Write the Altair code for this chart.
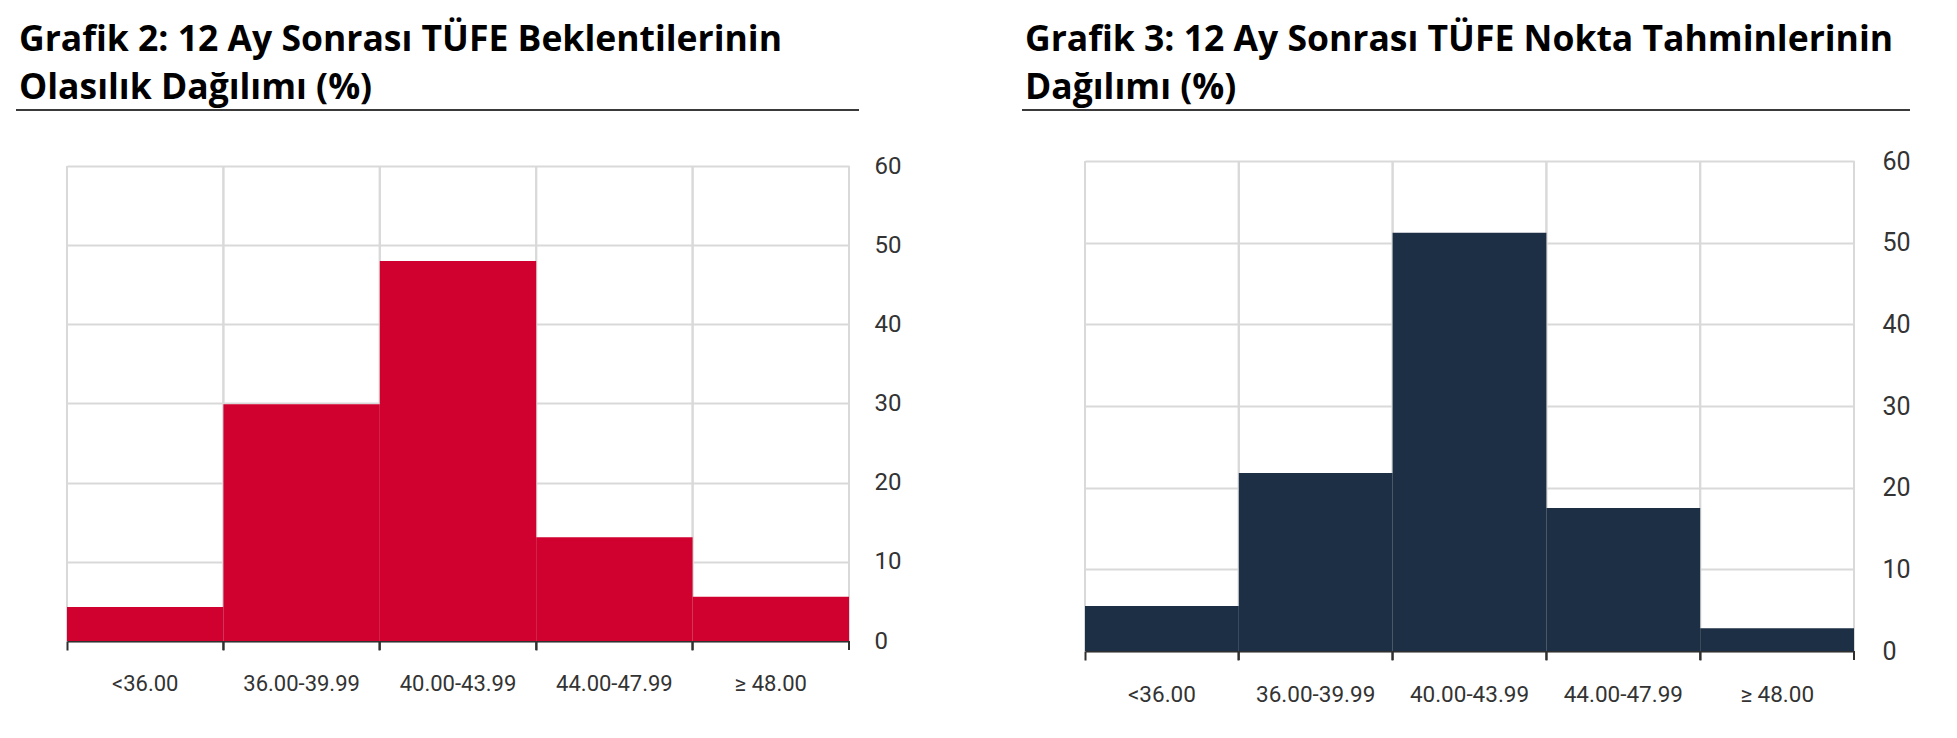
import altair as alt
import pandas as pd

# ---- data ----
categories = ["<36.00", "36.00-39.99", "40.00-43.99", "44.00-47.99", "≥ 48.00"]
probability_values = [4.3, 29.9, 48.0, 13.1, 5.6]   # Grafik 2
point_values = [5.5, 21.8, 51.2, 17.5, 2.8]         # Grafik 3
y_ticks = [0, 10, 20, 30, 40, 50, 60]

title_left = ["Grafik 2: 12 Ay Sonrası TÜFE Beklentilerinin", "Olasılık Dağılımı (%)"]
title_right = ["Grafik 3: 12 Ay Sonrası TÜFE Nokta Tahminlerinin", "Dağılımı (%)"]

RED = "#D0002F"
NAVY = "#1D2F44"
GRID = "#D9D9D9"
AXIS = "#303030"
TITLE_FONT = "Open Sans"
LABEL_FONT = "Roboto"


def panel(values, color, title, w, h, ymax, line_x0, line_x1, line_y,
          title_offset, xlab_size, xlab_pad, ylab_size, ylab_pad):
    df = pd.DataFrame({"cat": categories, "val": values})
    base = alt.Chart(df)
    xscale = alt.Scale(domain=categories, paddingInner=0, paddingOuter=0)
    yscale = alt.Scale(domain=[0, ymax], nice=False, zero=True)

    xaxis = alt.Axis(
        title=None,
        bandPosition=0,
        labelAngle=0,
        labelAlign="center",
        labelOverlap=False,
        labelFont=LABEL_FONT,
        labelFontSize=xlab_size,
        labelColor="#333333",
        labelPadding=xlab_pad,
        tickSize=9,
        tickColor=AXIS,
        tickWidth=2,
        domainColor=AXIS,
        domainWidth=2,
        grid=False,
    )
    yaxis = alt.Axis(
        orient="right",
        values=y_ticks,
        title=None,
        domain=False,
        ticks=False,
        grid=True,
        labelFont=LABEL_FONT,
        labelFontSize=ylab_size,
        labelColor="#333333",
        labelPadding=ylab_pad,
        gridColor=GRID,
        gridWidth=2,
    )

    left_grid = base.mark_rule(color=GRID, strokeWidth=2).encode(
        x=alt.X("cat:N", scale=xscale, bandPosition=0, axis=xaxis),
        y=alt.datum(60, scale=yscale, axis=yaxis),
        y2=alt.datum(0),
    )
    right_grid = base.mark_rule(color=GRID, strokeWidth=2).encode(
        x=alt.X("cat:N", scale=xscale, bandPosition=1, axis=xaxis),
        y=alt.datum(60, scale=yscale, axis=yaxis),
        y2=alt.datum(0),
    )
    bars = base.mark_bar(color=color).encode(
        x=alt.X("cat:N", scale=xscale, sort=categories, axis=xaxis),
        y=alt.Y("val:Q", scale=yscale, axis=yaxis),
    )
    end_ticks = base.mark_rule(color=AXIS, strokeWidth=2).encode(
        x=alt.X("cat:N", scale=xscale, bandPosition=1, axis=xaxis),
        y=alt.value(h),
        y2=alt.value(h + 9),
    )
    underline = alt.Chart(pd.DataFrame({"u": [0]})).mark_rule(
        color="#3A3A3A", strokeWidth=2
    ).encode(x=alt.value(line_x0), x2=alt.value(line_x1), y=alt.value(line_y))

    return alt.layer(left_grid, right_grid, bars, end_ticks, underline).properties(
        width=w,
        height=h,
        title=alt.TitleParams(
            title,
            anchor="start",
            frame="bounds",
            dx=4,
            font=TITLE_FONT,
            fontSize=35.5,
            fontWeight="bold",
            color="#000000",
            lineHeight=48,
            baseline="bottom",
            offset=title_offset,
        ),
    )


# left plot: gridline 60 at y=166, zero at 641; group top aligned with right (161)
left = panel(probability_values, RED, title_left, 782, 480, 60 * 480 / 475,
             -51, 792, -51, -32, 22, 23, 24, 25)
right = panel(point_values, NAVY, title_right, 769, 490, 60,
              -63, 825, -51, -32, 22.5, 23, 25, 28)

chart = (
    alt.hconcat(left, right, spacing=120)
    .properties(padding={"left": 7, "top": 14, "right": 0, "bottom": 0})
    .configure_view(stroke=None)
)

chart.save("out.html", embed_options={"renderer": "svg", "actions": False})
